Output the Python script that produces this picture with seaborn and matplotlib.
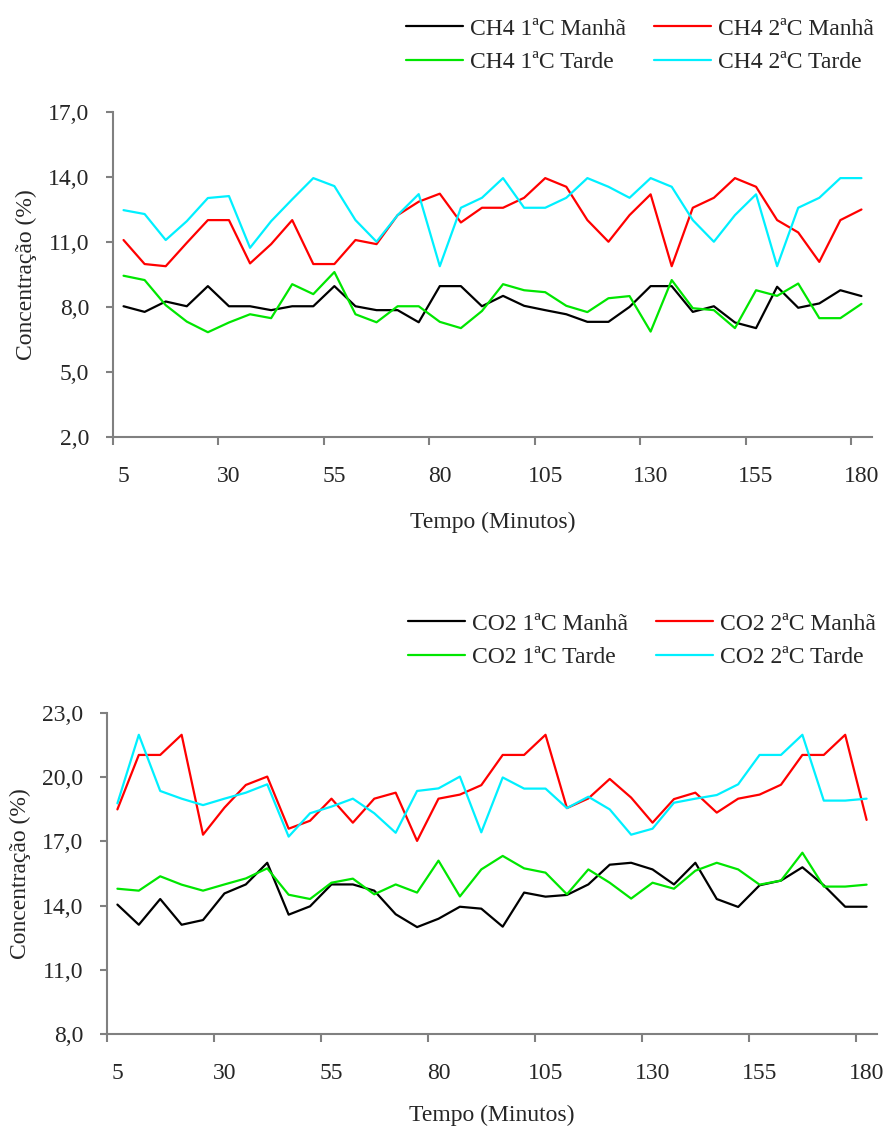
import numpy as np
import pandas as pd
import matplotlib
matplotlib.use("Agg")
import matplotlib.pyplot as plt
import seaborn as sns

# ---------------- data ----------------
minutes = [5, 10, 15, 20, 25, 30, 35, 40, 45, 50, 55, 60, 65, 70, 75, 80, 85, 90,
           95, 100, 105, 110, 115, 120, 125, 130, 135, 140, 145, 150, 155, 160, 165, 170, 175, 180]

ch4_1_manha = [8.04, 7.78, 8.26, 8.04, 8.97, 8.04, 8.04, 7.86, 8.04, 8.04, 8.97, 8.04,
               7.86, 7.86, 7.30, 8.97, 8.97, 8.04, 8.52, 8.06, 7.86, 7.67, 7.32, 7.32,
               8.01, 8.97, 8.97, 7.78, 8.04, 7.29, 7.03, 8.94, 7.97, 8.17, 8.78, 8.51]
ch4_2_manha = [11.10, 9.99, 9.89, 10.97, 12.02, 12.02, 10.02, 10.91, 12.02, 9.99, 9.99, 11.10,
               10.91, 12.25, 12.87, 13.24, 11.91, 12.59, 12.59, 13.05, 13.96, 13.56, 12.02, 11.02,
               12.25, 13.21, 9.89, 12.59, 13.05, 13.96, 13.56, 12.02, 11.45, 10.09, 12.02, 12.51]
ch4_1_tarde = [9.45, 9.25, 8.09, 7.33, 6.84, 7.29, 7.67, 7.49, 9.06, 8.60, 9.62, 7.67,
               7.30, 8.04, 8.04, 7.32, 7.03, 7.82, 9.06, 8.78, 8.69, 8.06, 7.77, 8.41,
               8.51, 6.87, 9.25, 7.95, 7.86, 7.03, 8.78, 8.52, 9.09, 7.49, 7.49, 8.15]
ch4_2_tarde = [12.48, 12.30, 11.10, 11.97, 13.04, 13.13, 10.74, 11.97, 12.98, 13.96, 13.59, 12.02,
               11.02, 12.25, 13.22, 9.89, 12.59, 13.05, 13.96, 12.59, 12.59, 13.05, 13.96, 13.56,
               13.05, 13.96, 13.56, 12.02, 11.02, 12.25, 13.21, 9.89, 12.59, 13.05, 13.96, 13.96]

co2_1_manha = [14.05, 13.11, 14.31, 13.11, 13.33, 14.57, 14.99, 16.00, 13.58, 13.97, 14.99, 14.99,
               14.70, 13.60, 13.00, 13.39, 13.95, 13.86, 13.02, 14.61, 14.42, 14.50, 14.99, 15.91,
               16.00, 15.69, 14.99, 16.00, 14.31, 13.94, 14.95, 15.17, 15.79, 14.95, 13.95, 13.95]
co2_2_manha = [18.49, 21.03, 21.03, 21.97, 17.31, 18.57, 19.63, 20.02, 17.59, 17.96, 18.99, 17.87,
               18.99, 19.27, 17.02, 18.99, 19.18, 19.62, 21.03, 21.03, 21.97, 18.55, 19.00, 19.91,
               19.04, 17.87, 18.97, 19.27, 18.34, 18.99, 19.18, 19.64, 21.03, 21.03, 21.97, 18.00]
co2_1_tarde = [14.79, 14.70, 15.37, 14.98, 14.70, 14.99, 15.27, 15.74, 14.51, 14.31, 15.07, 15.26,
               14.53, 14.99, 14.61, 16.10, 14.43, 15.69, 16.32, 15.74, 15.54, 14.53, 15.69, 15.07,
               14.33, 15.07, 14.79, 15.63, 16.00, 15.69, 14.98, 15.17, 16.47, 14.89, 14.89, 14.98]
co2_2_tarde = [18.77, 21.97, 19.35, 18.99, 18.69, 18.99, 19.27, 19.66, 17.22, 18.31, 18.62, 18.99,
               18.31, 17.40, 19.35, 19.47, 20.02, 17.42, 19.98, 19.46, 19.46, 18.55, 19.08, 18.49,
               17.31, 17.59, 18.80, 18.99, 19.16, 19.66, 21.03, 21.03, 21.97, 18.90, 18.90, 18.99]

x_tick_labels = ["5", "30", "55", "80", "105", "130", "155", "180"]
ch4_yticks = [2.0, 5.0, 8.0, 11.0, 14.0, 17.0]
co2_yticks = [8.0, 11.0, 14.0, 17.0, 20.0, 23.0]

ch4_names = ["CH4 1ªC Manhã", "CH4 2ªC Manhã", "CH4 1ªC Tarde", "CH4 2ªC Tarde"]
co2_names = ["CO2 1ªC Manhã", "CO2 2ªC Manhã", "CO2 1ªC Tarde", "CO2 2ªC Tarde"]
colors = ["#000000", "#FF0000", "#00E600", "#00F0FF"]

# ---------------- style ----------------
sns.set_theme(style="white")
plt.rcParams["font.family"] = ["Liberation Serif", "DejaVu Serif"]
FS = 17
GRAY = "#808080"

W, H = 886, 1130
fig = plt.figure(figsize=(W / 100, H / 100), dpi=100)


def px_axes(left, top, right, bottom):
    return fig.add_axes([left / W, 1 - bottom / H, (right - left) / W, (bottom - top) / H])


def draw(ax, names, series, ylim, yticks, leg_anchor, xpad):
    df = pd.DataFrame({
        "Tempo": np.concatenate([minutes] * len(series)),
        "Valor": np.concatenate(series),
        "Serie": np.repeat(names, len(minutes)),
    })
    pal = dict(zip(names, colors))
    sns.lineplot(data=df, x="Tempo", y="Valor", hue="Serie", hue_order=names,
                 palette=pal, linewidth=1.6, ax=ax, legend=False, sort=False)
    ax.set_xlim(minutes[0] - 2.5, minutes[-1] + 2.5)
    ax.set_ylim(*ylim)
    ax.set_yticks(yticks)
    ax.set_yticklabels([f"{v:.1f}".replace(".", ",") for v in yticks], fontsize=FS)
    lbl_pos = [int(t) for t in x_tick_labels]
    ax.set_xticks(lbl_pos)
    ax.set_xticklabels(x_tick_labels, fontsize=FS)
    ax.set_xticks([p - 2.5 for p in lbl_pos], minor=True)
    ax.tick_params(axis="x", which="major", length=0, pad=21)
    ax.tick_params(axis="x", which="minor", length=6, width=1.5, color=GRAY, direction="out", bottom=True)
    ax.tick_params(axis="y", which="major", length=5, width=1.5, color=GRAY, direction="out", left=True, pad=12)
    for s in ["top", "right"]:
        ax.spines[s].set_visible(False)
    for s in ["left", "bottom"]:
        ax.spines[s].set_color(GRAY)
        ax.spines[s].set_linewidth(1.5)
    ax.set_xlabel("Tempo (Minutos)", fontsize=FS, labelpad=xpad)
    ax.set_ylabel("Concentração (%)", fontsize=FS, labelpad=8)
    ax.grid(False)
    handles = [plt.Line2D([], [], color=c, lw=1.6) for c in colors]
    order = [0, 2, 1, 3]
    fig.legend([handles[i] for i in order], [names[i] for i in order], ncol=2,
               loc="upper left", bbox_to_anchor=(leg_anchor[0] / W, 1 - leg_anchor[1] / H),
               bbox_transform=fig.transFigure, frameon=False, fontsize=FS,
               handlelength=2.4, handletextpad=0.3, columnspacing=1.2,
               labelspacing=0.5, borderpad=0, borderaxespad=0)


ax1 = px_axes(113, 112.3, 872, 437)
draw(ax1, ch4_names, [ch4_1_manha, ch4_2_manha, ch4_1_tarde, ch4_2_tarde],
     (2, 17), ch4_yticks, (406, 18), 18)

ax2 = px_axes(106.7, 712.7, 877.3, 1034.3)
draw(ax2, co2_names, [co2_1_manha, co2_2_manha, co2_1_tarde, co2_2_tarde],
     (8, 23), co2_yticks, (408, 613), 15)

fig.savefig("out.png", dpi=100)
